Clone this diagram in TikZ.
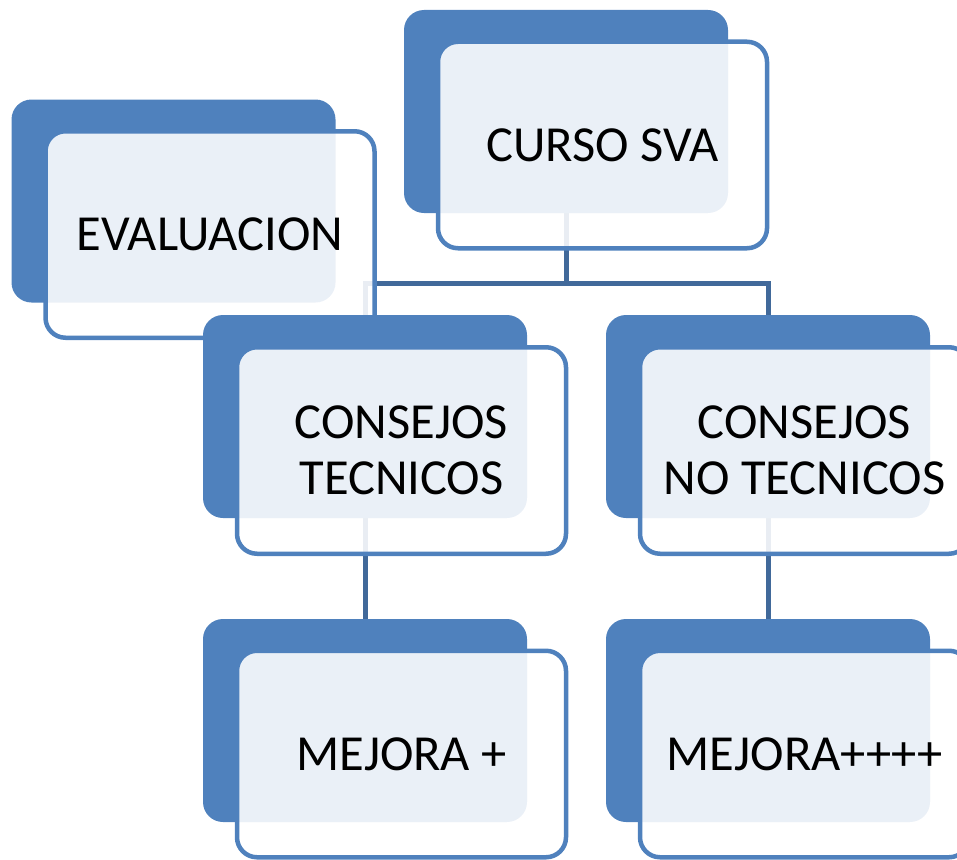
\documentclass[tikz,border=0pt]{standalone}
\usepackage{fontspec}
\setmainfont{Carlito}
\usetikzlibrary{backgrounds}
\definecolor{backblue}{HTML}{4F81BD}
\definecolor{connblue}{HTML}{41699A}
\begin{document}
\begin{tikzpicture}[x=1pt,y=-1pt,
  backbox/.style={rectangle, rounded corners=20pt, fill=backblue,
    minimum width=324pt, minimum height=203pt, inner sep=0pt},
  frontbox/.style={rectangle, rounded corners=20pt, draw=backblue,
    line width=4.5pt, fill=white, fill opacity=0.885, text opacity=1,
    minimum width=329pt, minimum height=206.5pt, inner sep=0pt,
    align=center, font=\fontsize{50.5}{56}\selectfont},
  conn/.style={draw=connblue, line width=5pt}]
\useasboundingbox (0,0) rectangle (957,859);
\clip (0,0) rectangle (957,859);
% CURSO SVA
\node[backbox] (cursoB) at (566,111.5) {};
\node[frontbox] (curso) at (602.5,145) {CURSO SVA};
% EVALUACION
\node[backbox] (evalB) at (173.5,201) {};
\node[frontbox] (eval) at (210,234.5) {EVALUACION};
% CONSEJOS TECNICOS
\node[backbox] (ctB) at (365,416.5) {};
\node[frontbox] (ct) at (401.5,450.5) {CONSEJOS\\TECNICOS};
% CONSEJOS NO TECNICOS
\node[backbox] (nctB) at (768,416.5) {};
\node[frontbox] (nct) at (804.5,450.5) {CONSEJOS\\NO TECNICOS};
% MEJORA +
\node[backbox] (mpB) at (365,720.5) {};
\node[frontbox] (mp) at (401.5,754) {MEJORA +};
% MEJORA++++
\node[backbox] (mppB) at (768,720.5) {};
\node[frontbox] (mpp) at (804.5,754) {MEJORA++++};
% connectors
\begin{scope}[on background layer]
  \coordinate (hub) at (566,283);
  \draw[conn] (cursoB.south) -- (hub) -| (ctB.north);
  \draw[conn] (hub) -| (nctB.north);
  \draw[conn] (ctB.south) -- (mpB.north);
  \draw[conn] (nctB.south) -- (mppB.north);
\end{scope}
\end{tikzpicture}
\end{document}
